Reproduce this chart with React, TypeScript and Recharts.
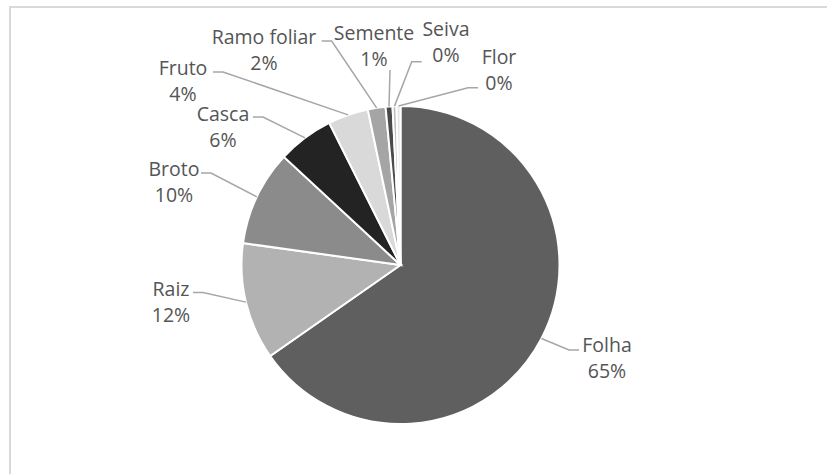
import React from "react";
import { PieChart, Pie, Cell } from "recharts";

const CATEGORIES = ["Folha", "Raiz", "Broto", "Casca", "Fruto", "Ramo foliar", "Semente", "Seiva", "Flor"];
const SHARES = [65.3, 11.9, 9.7, 5.7, 4.1, 1.8, 0.7, 0.4, 0.4];

const COLORS = ["#5f5f5f", "#b2b2b2", "#8b8b8b", "#232323", "#d9d9d9", "#a5a5a5", "#4a4a4a", "#bfbfbf", "#e6e6e6"];

// Excel "best fit" label spots, relative to pie centre: text x/y, leader end x/y, horizontal tail
const LABEL_LAYOUT = [
  { tx: 206.5, ty: 79, lx: 178.5, ly: 85, tail: -10 },
  { tx: -229.5, ty: 23, lx: -207.5, ly: 27.5, tail: 10 },
  { tx: -226.5, ty: -97, lx: -199.5, ly: -92, tail: 10 },
  { tx: -177.5, ty: -152, lx: -147.5, ly: -148, tail: 10 },
  { tx: -217.5, ty: -198, lx: -187.5, ly: -193, tail: 10 },
  { tx: -136.5, ty: -229, lx: -78.8, ly: -224, tail: 10 },
  { tx: -26.5, ty: -233, lx: -10.5, ly: -195, tail: 0 },
  { tx: 45.5, ty: -237, lx: 21.2, ly: -203.3, tail: -10 },
  { tx: 98.5, ty: -209, lx: 77.5, ly: -177.3, tail: -10 },
];

const data = CATEGORIES.map((name, i) => ({ name, value: SHARES[i] }));

const FONT = "'Open Sans', 'Noto Sans', sans-serif";
const RAD = Math.PI / 180;

function renderLabel(props: any) {
  const { cx, cy, midAngle, outerRadius, percent, index } = props;
  const l = LABEL_LAYOUT[index];
  const px = cx + outerRadius * Math.cos(-midAngle * RAD);
  const py = cy + outerRadius * Math.sin(-midAngle * RAD);
  const ex = cx + l.lx;
  const ey = cy + l.ly;
  const bx = ex + l.tail;
  return (
    <g key={`lbl-${index}`}>
      <polyline
        points={`${px},${py} ${bx},${ey} ${ex},${ey}`}
        fill="none"
        stroke="#a6a6a6"
        strokeWidth={1.5}
      />
      <text x={cx + l.tx} y={cy + l.ty} textAnchor="middle" dominantBaseline="central" fill="#555" fontSize={19.5} fontFamily={FONT}>
        {CATEGORIES[index]}
      </text>
      <text x={cx + l.tx} y={cy + l.ty + 26} textAnchor="middle" dominantBaseline="central" fill="#555" fontSize={19.5} fontFamily={FONT}>
        {`${Math.round(percent * 100)}%`}
      </text>
    </g>
  );
}

export default function App() {
  return (
    <div style={{ position: "absolute", left: 0, top: 0, width: 827, height: 474, background: "#fff", overflow: "hidden" }}>
      <div
        style={{
          position: "absolute",
          left: 9,
          top: 6,
          width: 830,
          height: 480,
          borderTop: "2px solid #d9d9d9",
          borderLeft: "2px solid #d9d9d9",
        }}
      />
      <div style={{ position: "absolute", left: 0, top: 0 }}>
        <PieChart width={827} height={474} margin={{ top: 0, right: 0, bottom: 0, left: 0 }}>
          <Pie
            data={data}
            dataKey="value"
            nameKey="name"
            cx={400.5}
            cy={265}
            outerRadius={159}
            startAngle={90}
            endAngle={-270}
            stroke="#ffffff"
            strokeWidth={2}
            label={renderLabel}
            labelLine={false}
            isAnimationActive={false}
          >
            {data.map((d, i) => (
              <Cell key={d.name} fill={COLORS[i]} />
            ))}
          </Pie>
        </PieChart>
      </div>
    </div>
  );
}
